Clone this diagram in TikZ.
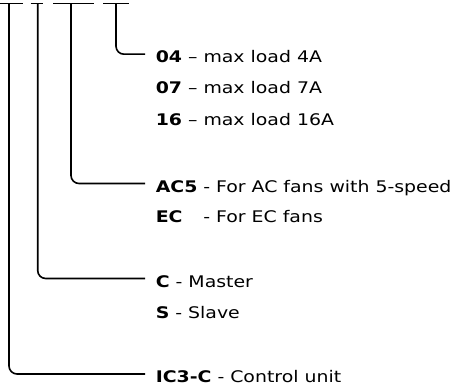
\documentclass[tikz,border=0pt]{standalone}
\usepackage{fontspec}
\setmainfont{DejaVu Sans}[FakeStretch=1.18]
\begin{document}
\begin{tikzpicture}[x=1pt, y=-1pt, line width=1.6pt]
            \useasboundingbox (0, 0) rectangle (455, 385);
            \tikzset{lbl/.style={anchor=base west, inner sep=0pt, font=\fontsize{16}{19}\selectfont}}
            % the code bars at the top
            \draw (0, 3.5) -- (22.7, 3.5);
            \draw (30.7, 3.5) -- (43.3, 3.5);
            \draw (53.3, 3.5) -- (94.3, 3.5);
            \draw (103.3, 3.5) -- (129.3, 3.5);
            \coordinate (t1) at (9, 3.5);
            \coordinate (t2) at (37.7, 3.5);
            \coordinate (t3) at (71, 3.5);
            \coordinate (t4) at (116, 3.5);
            % labels
            \node[lbl] (n04) at (155, 62.7) {\textbf{04} – max load 4A};
            \node[lbl] (n07) at (155, 94) {\textbf{07} – max load 7A};
            \node[lbl] (n16) at (155, 126) {\textbf{16} – max load 16A};
            \node[lbl] (nac) at (155, 192) {\textbf{AC5} - For AC fans with 5-speed};
            \node[lbl] (nec) at (155, 222) {\rlap{\textbf{EC}}\phantom{\textbf{AC5}} - For EC fans};
            \node[lbl] (nc) at (155, 287) {\textbf{C} - Master};
            \node[lbl] (ns) at (155, 318) {\textbf{S} - Slave};
            \node[lbl] (nic) at (155, 382.5) {\textbf{IC3-C} - Control unit};
            % connectors
            \draw[rounded corners=8pt] (t4) |- ([xshift=-10pt, yshift=8.5pt]n04.base west);
            \draw[rounded corners=8pt] (t3) |- ([xshift=-10pt, yshift=8.5pt]nac.base west);
            \draw[rounded corners=8pt] (t2) |- ([xshift=-10pt, yshift=8.5pt]nc.base west);
            \draw[rounded corners=8pt] (t1) |- ([xshift=-10pt, yshift=8.5pt]nic.base west);
        \end{tikzpicture}
\end{document}
